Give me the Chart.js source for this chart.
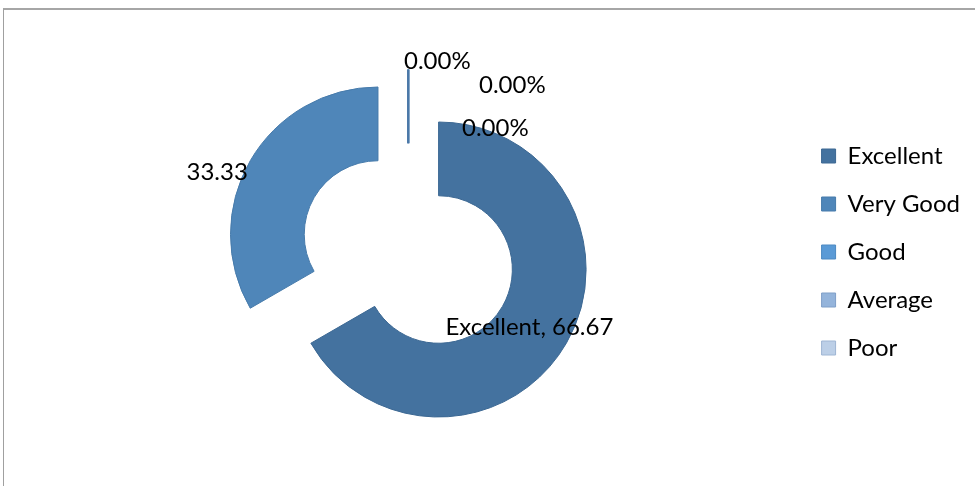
<!DOCTYPE html>
<html lang="en">
<head>
    <meta charset="UTF-8">
    <title>Rating Doughnut</title>
    <script src="https://cdn.jsdelivr.net/npm/chart.js@4"></script>
    <style>
        html, body {
            margin: 0;
            padding: 0;
            background: #ffffff;
        }
        .frame {
            position: absolute;
            left: 3px;
            top: 8px;
            width: 990px;
            height: 500px;
            border-left: 1px solid #a0a0a0;
            border-top: 2px solid #a6a6a6;
        }
        .chart-box {
            position: absolute;
            left: 0;
            top: 0;
            width: 975px;
            height: 486px;
        }
    </style>
</head>
<body>
    <div class="frame"></div>
    <div class="chart-box">
        <canvas id="ratingChart" width="975" height="486"></canvas>
    </div>
    <script>
        // data
        const categories = ['Excellent', 'Very Good', 'Good', 'Average', 'Poor'];
        const ratingValues = [66.67, 33.33, 0, 0, 0];
        const labelTexts = ['Excellent, 66.67', '33.33', '0.00%', '0.00%', '0.00%'];

        const sliceColors = ['#44729f', '#4f86b9', '#5a9ad6', '#94b4db', '#bccfe7'];
        const sliceBorders = ['#3c6893', '#477bab', '#4d89c2', '#7f9fc8', '#9fb6d4'];
        // label nudges from each slice's centre, in px
        const labelShift = [[-5, 2], [-65, -7], [29, -45], [104, -21], [87, 22]];

        const FONT = 'Lato, "Open Sans", sans-serif';

        // pull every slice out from the centre (and show zero slices as a thin line)
        const explodePlugin = {
            id: 'explode',
            beforeDatasetDraw(chart, args, opts) {
                const ctx = chart.ctx;
                args.meta.data.forEach((arc, i) => {
                    const p = arc.getProps(['x', 'y', 'startAngle', 'endAngle', 'innerRadius', 'outerRadius', 'circumference']);
                    const mid = (p.startAngle + p.endAngle) / 2;
                    ctx.save();
                    ctx.translate(Math.cos(mid) * opts.distance, Math.sin(mid) * opts.distance);
                    if (p.circumference > 0) {
                        arc.draw(ctx);
                    } else {
                        ctx.strokeStyle = '#4a78a8';
                        ctx.lineWidth = 2;
                        ctx.beginPath();
                        ctx.moveTo(p.x + Math.cos(p.startAngle) * p.innerRadius, p.y + Math.sin(p.startAngle) * p.innerRadius);
                        ctx.lineTo(p.x + Math.cos(p.startAngle) * p.outerRadius, p.y + Math.sin(p.startAngle) * p.outerRadius);
                        ctx.stroke();
                    }
                    ctx.restore();
                });
                return false;
            }
        };

        const labelPlugin = {
            id: 'sliceLabels',
            afterDatasetsDraw(chart, args, opts) {
                const ctx = chart.ctx;
                const dist = chart.options.plugins.explode.distance;
                chart.getDatasetMeta(0).data.forEach((arc, i) => {
                    const p = arc.getProps(['x', 'y', 'startAngle', 'endAngle', 'innerRadius', 'outerRadius']);
                    const mid = (p.startAngle + p.endAngle) / 2;
                    const r = (p.innerRadius + p.outerRadius) / 2 + dist;
                    const x = p.x + Math.cos(mid) * r + labelShift[i][0];
                    const y = p.y + Math.sin(mid) * r + labelShift[i][1];
                    ctx.save();
                    ctx.font = opts.size + 'px ' + FONT;
                    ctx.fillStyle = '#000';
                    ctx.textAlign = 'center';
                    ctx.textBaseline = 'middle';
                    ctx.fillText(labelTexts[i], x, y);
                    ctx.restore();
                });
            }
        };

        new Chart(document.getElementById('ratingChart'), {
            type: 'doughnut',
            data: {
                labels: categories,
                datasets: [{
                    data: ratingValues,
                    backgroundColor: sliceColors,
                    borderColor: sliceBorders,
                    borderWidth: 1
                }]
            },
            options: {
                responsive: false,
                animation: false,
                cutout: '50%',
                layout: {
                    padding: { top: 104, bottom: 86, left: 19, right: 5 }
                },
                plugins: {
                    explode: { distance: 35 },
                    sliceLabels: { size: 24 },
                    tooltip: { enabled: false },
                    legend: {
                        position: 'right',
                        align: 'center',
                        labels: {
                            boxWidth: 14,
                            boxHeight: 14,
                            padding: 24,
                            color: '#000',
                            font: { family: FONT, size: 24 }
                        }
                    }
                }
            },
            plugins: [explodePlugin, labelPlugin]
        });
    </script>
</body>
</html>
